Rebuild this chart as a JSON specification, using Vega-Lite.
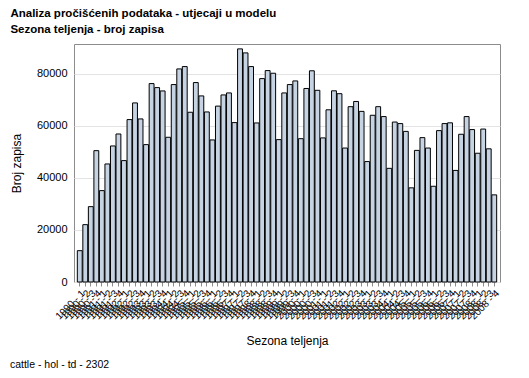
{
  "$schema": "https://vega.github.io/schema/vega-lite/v6.json",
  "background": "white",
  "padding": {"left": 9, "top": 7, "right": 31, "bottom": 5},
  "config": {
    "font": "Liberation Sans",
    "view": {"stroke": "#8c8c8c", "strokeWidth": 1},
    "concat": {"spacing": 0}
  },
  "title": {
    "text": "cattle - hol - td - 2302",
    "orient": "bottom",
    "anchor": "start",
    "frame": "bounds",
    "fontSize": 10.5,
    "fontWeight": "normal",
    "color": "#000",
    "offset": 13
  },
  "vconcat": [
    {
      "width": 426,
      "height": 238,
      "title": {
        "text": "Analiza pročišćenih podataka - utjecaji u modelu",
        "subtitle": "Sezona teljenja - broj zapisa",
        "anchor": "start",
        "frame": "bounds",
        "fontSize": 11.5,
        "fontWeight": "bold",
        "color": "#000",
        "subtitleFontSize": 11.5,
        "subtitleFontWeight": "bold",
        "subtitleColor": "#000",
        "subtitlePadding": 4,
        "offset": 9
      },
      "data": {
        "values": [
          {"sezona": "1990 - 1", "broj": 12050},
          {"sezona": "1990 - 2", "broj": 22050},
          {"sezona": "1990 - 3", "broj": 28970},
          {"sezona": "1990 - 4", "broj": 50500},
          {"sezona": "1991 - 1", "broj": 35130},
          {"sezona": "1991 - 2", "broj": 45380},
          {"sezona": "1991 - 3", "broj": 52300},
          {"sezona": "1991 - 4", "broj": 56900},
          {"sezona": "1992 - 1", "broj": 46670},
          {"sezona": "1992 - 2", "broj": 62440},
          {"sezona": "1992 - 3", "broj": 68850},
          {"sezona": "1992 - 4", "broj": 62690},
          {"sezona": "1993 - 1", "broj": 52820},
          {"sezona": "1993 - 2", "broj": 76280},
          {"sezona": "1993 - 3", "broj": 74740},
          {"sezona": "1993 - 4", "broj": 73460},
          {"sezona": "1994 - 1", "broj": 55640},
          {"sezona": "1994 - 2", "broj": 75900},
          {"sezona": "1994 - 3", "broj": 81920},
          {"sezona": "1994 - 4", "broj": 82820},
          {"sezona": "1995 - 1", "broj": 65260},
          {"sezona": "1995 - 2", "broj": 76670},
          {"sezona": "1995 - 3", "broj": 71540},
          {"sezona": "1995 - 4", "broj": 65380},
          {"sezona": "1996 - 1", "broj": 54620},
          {"sezona": "1996 - 2", "broj": 67620},
          {"sezona": "1996 - 3", "broj": 71920},
          {"sezona": "1996 - 4", "broj": 72690},
          {"sezona": "1997 - 1", "broj": 61280},
          {"sezona": "1997 - 2", "broj": 89620},
          {"sezona": "1997 - 3", "broj": 88080},
          {"sezona": "1997 - 4", "broj": 82820},
          {"sezona": "1998 - 1", "broj": 61150},
          {"sezona": "1998 - 2", "broj": 78200},
          {"sezona": "1998 - 3", "broj": 81280},
          {"sezona": "1998 - 4", "broj": 80260},
          {"sezona": "1999 - 1", "broj": 54740},
          {"sezona": "1999 - 2", "broj": 72690},
          {"sezona": "1999 - 3", "broj": 75900},
          {"sezona": "1999 - 4", "broj": 77300},
          {"sezona": "2000 - 1", "broj": 55100},
          {"sezona": "2000 - 2", "broj": 74400},
          {"sezona": "2000 - 3", "broj": 81200},
          {"sezona": "2000 - 4", "broj": 73700},
          {"sezona": "2001 - 1", "broj": 55400},
          {"sezona": "2001 - 2", "broj": 66200},
          {"sezona": "2001 - 3", "broj": 73500},
          {"sezona": "2001 - 4", "broj": 72400},
          {"sezona": "2002 - 1", "broj": 51500},
          {"sezona": "2002 - 2", "broj": 67400},
          {"sezona": "2002 - 3", "broj": 69400},
          {"sezona": "2002 - 4", "broj": 65600},
          {"sezona": "2003 - 1", "broj": 46300},
          {"sezona": "2003 - 2", "broj": 64100},
          {"sezona": "2003 - 3", "broj": 67400},
          {"sezona": "2003 - 4", "broj": 63600},
          {"sezona": "2004 - 1", "broj": 43700},
          {"sezona": "2004 - 2", "broj": 61500},
          {"sezona": "2004 - 3", "broj": 60900},
          {"sezona": "2004 - 4", "broj": 57900},
          {"sezona": "2005 - 1", "broj": 36200},
          {"sezona": "2005 - 2", "broj": 50600},
          {"sezona": "2005 - 3", "broj": 55500},
          {"sezona": "2005 - 4", "broj": 51500},
          {"sezona": "2006 - 1", "broj": 36800},
          {"sezona": "2006 - 2", "broj": 58200},
          {"sezona": "2006 - 3", "broj": 60900},
          {"sezona": "2006 - 4", "broj": 61200},
          {"sezona": "2007 - 1", "broj": 42900},
          {"sezona": "2007 - 2", "broj": 56800},
          {"sezona": "2007 - 3", "broj": 63600},
          {"sezona": "2007 - 4", "broj": 58600},
          {"sezona": "2008 - 1", "broj": 49500},
          {"sezona": "2008 - 2", "broj": 58800},
          {"sezona": "2008 - 3", "broj": 51200},
          {"sezona": "2008 - 4", "broj": 33500}
        ]
      },
      "mark": {"type": "bar", "fill": "#c6d3e3", "stroke": "#000000", "strokeWidth": 1},
      "encoding": {
        "x": {
          "field": "sezona",
          "type": "ordinal",
          "sort": null,
          "scale": {"paddingInner": 0.12, "paddingOuter": 0.6},
          "axis": {
            "title": "Sezona teljenja",
            "titleFontSize": 12,
            "titleFontWeight": "normal",
            "titleColor": "#000",
            "titlePadding": 14,
            "labelAngle": -45,
            "labelFontSize": 10,
            "labelColor": "#000",
            "labelOverlap": false,
            "labelPadding": 2,
            "domain": false,
            "ticks": true,
            "tickSize": 4,
            "tickColor": "#8c8c8c",
            "grid": false
          }
        },
        "y": {
          "field": "broj",
          "type": "quantitative",
          "scale": {"domain": [0, 91500], "nice": false},
          "axis": {
            "title": "Broj zapisa",
            "titleFontSize": 12,
            "titleFontWeight": "normal",
            "titleColor": "#000",
            "titlePadding": 13,
            "values": [0, 20000, 40000, 60000, 80000],
            "format": "d",
            "labelFontSize": 11,
            "labelColor": "#000",
            "labelPadding": 7,
            "ticks": false,
            "domain": false,
            "grid": true,
            "gridColor": "#e3e3e3",
            "gridWidth": 1
          }
        }
      }
    }
  ]
}
